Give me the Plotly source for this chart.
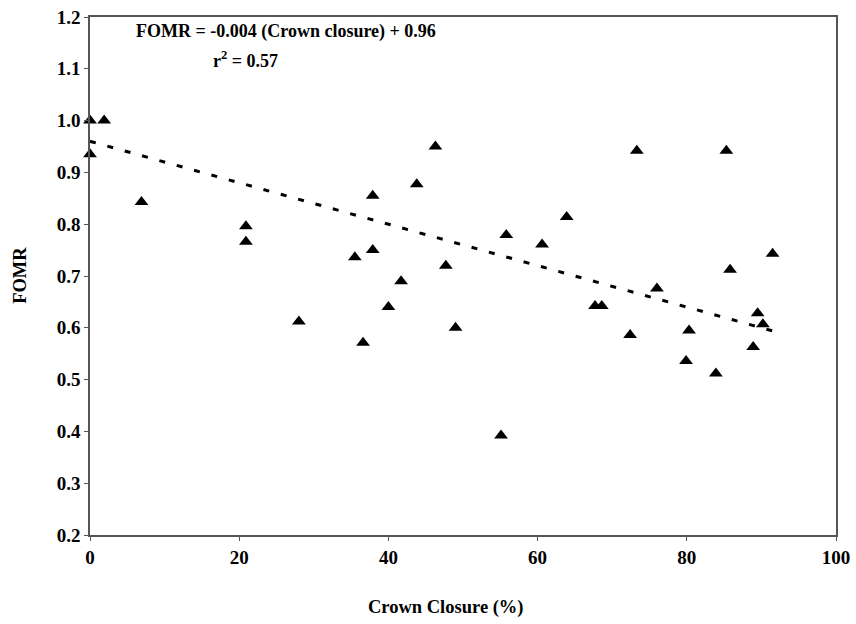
import numpy as np
import plotly.graph_objects as go

crown_closure = [0, 0, 1.9, 6.9, 20.9, 20.9, 28.0, 35.5, 36.6, 37.9, 37.9, 40.0, 41.7, 43.8,
                 46.3, 47.7, 49.0, 55.1, 55.8, 60.6, 63.9, 67.7, 68.6, 72.4, 73.3, 76.0,
                 79.9, 80.3, 83.9, 85.3, 85.8, 88.9, 89.5, 90.2, 91.5]
fomr = [1.0, 0.935, 1.0, 0.843, 0.796, 0.766, 0.612, 0.736, 0.571, 0.855, 0.750, 0.640, 0.690, 0.877,
        0.950, 0.720, 0.600, 0.392, 0.779, 0.761, 0.814, 0.642, 0.642, 0.586, 0.942, 0.676,
        0.536, 0.595, 0.512, 0.942, 0.712, 0.563, 0.628, 0.607, 0.743]

slope, intercept = -0.004, 0.96
x_tick_vals = [0, 20, 40, 60, 80, 100]
y_tick_vals = [0.2, 0.3, 0.4, 0.5, 0.6, 0.7, 0.8, 0.9, 1.0, 1.1, 1.2]
y_tick_text = ["0.2", "0.3", "0.4", "0.5", "0.6", "0.7", "0.8", "0.9", "1.0", "1.1", "1.2"]

fit_x = np.array([min(crown_closure), max(crown_closure)])
fit_y = intercept + slope * fit_x

FONT = "Liberation Serif"

fig = go.Figure()
fig.add_trace(go.Scatter(x=fit_x, y=fit_y, mode="lines",
                         line=dict(color="black", width=3, dash="6px,12px"),
                         showlegend=False, hoverinfo="skip"))
fig.add_trace(go.Scatter(x=crown_closure, y=fomr, mode="markers",
                         marker=dict(symbol="triangle-up", size=12, color="black"),
                         showlegend=False, cliponaxis=False))

fig.update_layout(
    width=856, height=624,
    margin=dict(l=90, r=20, t=17, b=89),
    plot_bgcolor="white", paper_bgcolor="white",
    font=dict(family=FONT, color="black", size=19),
    annotations=[
        dict(text="<b>FOMR = -0.004 (Crown closure) + 0.96</b>", xref="paper", yref="paper",
             x=0.263, y=0.972, xanchor="center", yanchor="middle", showarrow=False,
             font=dict(family=FONT, size=18)),
        dict(text="<b>r<sup>2</sup> = 0.57</b>", xref="paper", yref="paper",
             x=0.208, y=0.918, xanchor="center", yanchor="middle", showarrow=False,
             font=dict(family=FONT, size=18)),
        dict(text="<b>Crown Closure (%)</b>", xref="paper", yref="paper",
             x=0.477, y=-0.139, xanchor="center", yanchor="middle", showarrow=False,
             font=dict(family=FONT, size=18.5)),
        dict(text="<b>FOMR</b>", xref="paper", yref="paper", textangle=-90,
             x=-0.094, y=0.502, xanchor="center", yanchor="middle", showarrow=False,
             font=dict(family=FONT, size=18.5)),
    ],
)
fig.update_xaxes(range=[0, 100], tickvals=x_tick_vals, ticktext=[f"<b>{v}</b>" for v in x_tick_vals],
                 showgrid=False, zeroline=False, showline=True, linecolor="#555", linewidth=1.5,
                 mirror=True, ticks="outside", ticklen=4, tickcolor="#555", automargin=False,
                 tickfont=dict(family=FONT, size=19))
fig.update_yaxes(range=[0.2, 1.2], tickvals=y_tick_vals, ticktext=[f"<b>{t}</b>" for t in y_tick_text],
                 showgrid=False, zeroline=False, showline=True, linecolor="#555", linewidth=1.5,
                 mirror=True, ticks="outside", ticklen=4, tickcolor="#555", automargin=False,
                 tickfont=dict(family=FONT, size=19))

fig.write_html("out.html", config={"displayModeBar": False},
               post_script="document.body.style.margin='0px';")
